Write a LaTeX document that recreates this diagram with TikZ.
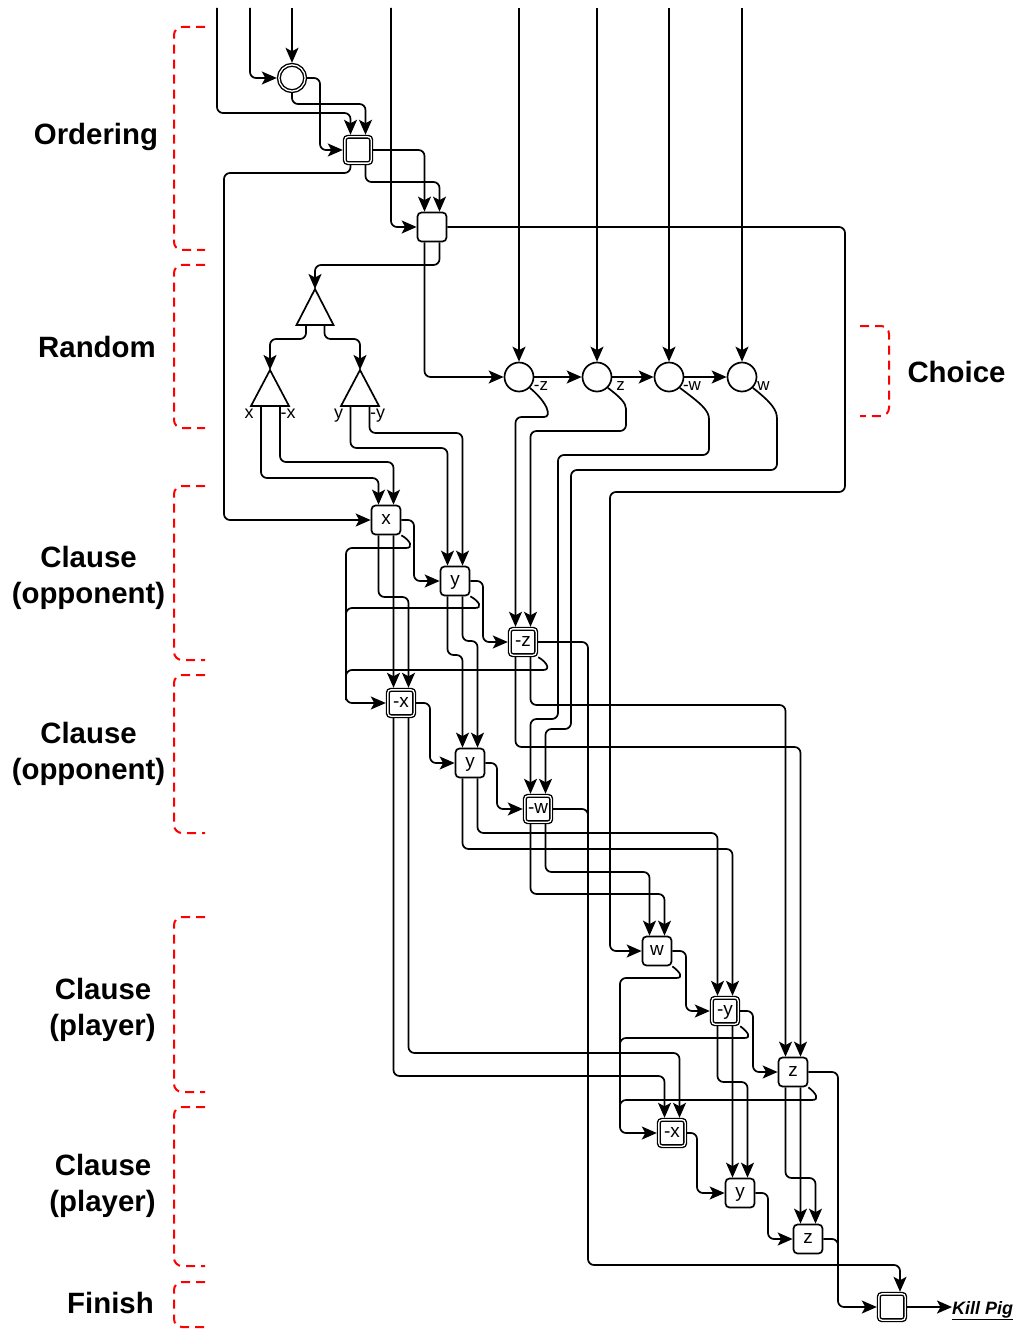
\documentclass[tikz,border=0pt]{standalone}
\usepackage{fontspec}
\setmainfont{Liberation Sans}
\usetikzlibrary{arrows.meta,calc}
\begin{document}
\begin{tikzpicture}[x=1bp,y=-1bp,
  wire/.style={line width=1.7bp, rounded corners=6bp, -{Stealth[length=15bp,width=13bp,inset=3.5bp]}},
  wireplain/.style={line width=1.7bp, rounded corners=6bp},
  lbox/.style={draw, line width=1.7bp, rounded corners=4bp, minimum size=29bp, inner sep=0pt, outer sep=0.85bp, fill=white, font=\fontsize{19}{21}\selectfont, text height=9.9bp, text depth=0pt},
  dlbox/.style={lbox, double, double distance=1.3bp, line width=1.4bp, minimum size=26.3bp, outer sep=2.05bp, rounded corners=3bp},
  ccirc/.style={circle, draw, line width=1.7bp, minimum size=29bp, inner sep=0pt, outer sep=0.85bp, fill=white},
  dcirc/.style={ccirc, double, double distance=1.3bp, line width=1.4bp, minimum size=26.3bp, outer sep=2.05bp},
  tri/.style={draw, line width=1.7bp, fill=white, line join=miter},
  lit/.style={inner sep=0pt, font=\fontsize{18}{20}\selectfont},
  clit/.style={inner sep=0pt, font=\fontsize{17}{19}\selectfont},
  grp/.style={inner sep=0pt, font=\bfseries\fontsize{29.5}{36}\selectfont},
  brk/.style={draw=red, line width=2bp, dash pattern=on 9bp off 6bp, rounded corners=8bp},
  kill/.style={inner sep=0pt, font=\bfseries\itshape\fontsize{18}{20}\selectfont}
]
\useasboundingbox (0,0) rectangle (1018,1331);

% ---------- nodes ----------
\node[dcirc] (c0) at (292,78) {};
\node[dlbox] (sq1) at (358,150) {};
\node[lbox] (sq2) at (432,227) {};
\node[ccirc] (c1) at (519,377) {};
\node[ccirc] (c2) at (597,377) {};
\node[ccirc] (c3) at (669,377) {};
\node[ccirc] (c4) at (742,377) {};
\node[lbox] (x1) at (386,520) {x};
\node[lbox] (y1) at (455,581) {y};
\node[dlbox] (nz1) at (523,642) {-z};
\node[dlbox] (nx2) at (401,703) {-x};
\node[lbox] (y2) at (470,763) {y};
\node[dlbox] (nw2) at (538,809) {-w};
\node[lbox] (w3) at (657,951) {w};
\node[dlbox] (ny3) at (725,1011) {-y};
\node[lbox] (z3) at (793,1072) {z};
\node[dlbox] (nx4) at (672,1133) {-x};
\node[lbox] (y4) at (740,1193) {y};
\node[lbox] (z4) at (808,1239) {z};
\node[dlbox] (fin) at (892,1307) {};
\node[kill, anchor=base west] (kp) at (952,1314) {\underline{Kill Pig}};

% triangles
\coordinate (T0) at (315,289);
\draw[tri] (T0) -- (333.5,325) -- (296.5,325) -- cycle;
\coordinate (Tx) at (270,370);
\draw[tri] (Tx) -- (289,406) -- (251,406) -- cycle;
\coordinate (Ty) at (360,370);
\draw[tri] (Ty) -- (379,406) -- (341,406) -- cycle;
\coordinate (T0l) at (306,325);
\coordinate (T0r) at (324.5,325);
\coordinate (Txl) at (261,406);
\coordinate (Txr) at (280,406);
\coordinate (Tyl) at (350.5,406);
\coordinate (Tyr) at (369.5,406);

% small labels
\node[lit, anchor=base] (lx) at (249,418) {x};
\node[lit, anchor=base] (lnx) at (288,418) {-x};
\node[lit, anchor=base] (ly) at (338.5,418) {y};
\node[lit, anchor=base] (lny) at (377.5,418) {-y};
\node[clit, anchor=base] (lc1) at (541,390) {-z};
\node[clit, anchor=base] (lc2) at (620.5,390) {z};
\node[clit, anchor=base] (lc3) at (692,390) {-w};
\node[clit, anchor=base] (lc4) at (763.5,390) {w};

% inputs
\coordinate (i1) at (217,8);
\coordinate (i2) at (250,8);
\coordinate (i3) at (292,8);
\coordinate (i4) at (391,8);
\coordinate (i5) at (519,8);
\coordinate (i6) at (597,8);
\coordinate (i7) at (669,8);
\coordinate (i8) at (742,8);

% ---------- top wires ----------
\draw[wire] (i1) -- (217,113) -- (350.5,113) -- ($(sq1.north)+(-7.5,0)$);
\draw[wire] (i2) -- (250,78) -- (c0.west);
\draw[wire] (i3) -- (c0.north);
\draw[wire] (i4) -- (391,227) -- (sq2.west);
\draw[wire] (i5) -- (c1.north);
\draw[wire] (i6) -- (c2.north);
\draw[wire] (i7) -- (c3.north);
\draw[wire] (i8) -- (c4.north);
\draw[wire] (c0.east) -- (320,78) -- (320,150) -- (sq1.west);
\draw[wire] (c0.south) -- (292,104) -- (365.5,104) -- ($(sq1.north)+(7.5,0)$);
\draw[wire] (sq1.east) -- (424.5,150) -- ($(sq2.north)+(-7.5,0)$);
\draw[wire] ($(sq1.south)+(7.5,0)$) -- (365.5,182) -- (439.5,182) -- ($(sq2.north)+(7.5,0)$);
\draw[wire] ($(sq1.south)+(-7.5,0)$) -- (350.5,173) -- (224,173) -- (224,520) -- (x1.west);
\draw[wire] (sq2.east) -- (845,227) -- (845,492) -- (610,492) -- (610,951) -- (w3.west);
\draw[wire] ($(sq2.south)+(7.5,0)$) -- (439.5,265) -- (315,265) -- (T0);
\draw[wire] ($(sq2.south)+(-7.5,0)$) -- (424.5,377) -- (c1.west);
\draw[wire] (c1.east) -- (c2.west);
\draw[wire] (c2.east) -- (c3.west);
\draw[wire] (c3.east) -- (c4.west);

% ---------- random tree ----------
\draw[wire] (T0l) -- (306,339) -- (270,339) -- (Tx);
\draw[wire] (T0r) -- (324.5,339) -- (360,339) -- (Ty);
\draw[wire] (Txl) -- (261,478) -- (378.5,478) -- ($(x1.north)+(-7.5,0)$);
\draw[wire] (Txr) -- (280,462) -- (393.5,462) -- ($(x1.north)+(7.5,0)$);
\draw[wire] (Tyl) -- (350.5,448) -- (447.5,448) -- ($(y1.north)+(-7.5,0)$);
\draw[wire] (Tyr) -- (369.5,433) -- (462.5,433) -- ($(y1.north)+(7.5,0)$);

% ---------- choice outputs ----------
\draw[wire] (c1.-45) .. controls (548,403) and (552,417) .. (538,417) -- (515.5,417) -- ($(nz1.north)+(-7.5,0)$);
\draw[wire] (c2.-45) .. controls (620,397) and (626,403) .. (626,415) -- (626,431) -- (530.5,431) -- ($(nz1.north)+(7.5,0)$);
\draw[wire] (c3.-45) .. controls (700,403) and (709,410) .. (709,425) -- (709,455) -- (558,455) -- (558,719) -- (530.5,719) -- ($(nw2.north)+(-7.5,0)$);
\draw[wire] (c4.-45) .. controls (772,403) and (777,410) .. (777,425) -- (777,470) -- (571,470) -- (571,729) -- (545.5,729) -- ($(nw2.north)+(7.5,0)$);

% ---------- clause 1 ----------
\draw[wire] (x1.east) -- (414,520) -- (414,581) -- (y1.west);
\draw[wire] (y1.east) -- (483,581) -- (483,642) -- (nz1.west);
\draw[wire] ($(x1.south)+(-7.5,0)$) -- (378.5,597) -- (408.5,597) -- ($(nx2.north)+(7.5,0)$);
\draw[wire] ($(x1.south)+(7.5,0)$) -- ($(nx2.north)+(-7.5,0)$);
\draw[wire] ($(y1.south)+(-7.5,0)$) -- (447.5,655) -- (462.5,655) -- ($(y2.north)+(-7.5,0)$);
\draw[wire] ($(y1.south)+(7.5,0)$) -- (462.5,641) -- (477.5,641) -- ($(y2.north)+(7.5,0)$);
\draw[wire] ($(nz1.south)+(-7.5,0)$) -- (515.5,747) -- (800.5,747) -- ($(z3.north)+(7.5,0)$);
\draw[wire] ($(nz1.south)+(7.5,0)$) -- (530.5,705) -- (785.5,705) -- ($(z3.north)+(-7.5,0)$);
\draw[wire] (nz1.east) -- (588,642) -- (588,1265) -- (900,1265) -- ($(fin.north)+(8,0)$);
\draw[wire] (x1.south east) .. controls (410,540) and (414,548) .. (400,548) -- (346,548) -- (346,703) -- (nx2.west);
\draw[wireplain] (y1.south east) .. controls (479,601) and (483,608) .. (469,608) -- (346,608) -- (346,640);
\draw[wireplain] (nz1.south east) .. controls (547,662) and (551,670) .. (537,670) -- (346,670) -- (346,700);

% ---------- clause 2 ----------
\draw[wire] (nx2.east) -- (430,703) -- (430,763) -- (y2.west);
\draw[wire] (y2.east) -- (497,763) -- (497,809) -- (nw2.west);
\draw[wire] ($(nx2.south)+(-7.5,0)$) -- (393.5,1076) -- (664.5,1076) -- ($(nx4.north)+(-7.5,0)$);
\draw[wire] ($(nx2.south)+(7.5,0)$) -- (408.5,1053) -- (679.5,1053) -- ($(nx4.north)+(7.5,0)$);
\draw[wire] ($(y2.south)+(-7.5,0)$) -- (462.5,849) -- (732.5,849) -- ($(ny3.north)+(7.5,0)$);
\draw[wire] ($(y2.south)+(7.5,0)$) -- (477.5,833) -- (717.5,833) -- ($(ny3.north)+(-7.5,0)$);
\draw[wire] ($(nw2.south)+(-7.5,0)$) -- (530.5,894) -- (664.5,894) -- ($(w3.north)+(7.5,0)$);
\draw[wire] ($(nw2.south)+(7.5,0)$) -- (545.5,872) -- (649.5,872) -- ($(w3.north)+(-7.5,0)$);
\draw[wireplain] (nw2.east) -- (588,809) -- (588,840);

% ---------- clause 3 ----------
\draw[wire] (w3.east) -- (686,951) -- (686,1011) -- (ny3.west);
\draw[wire] (ny3.east) -- (753,1011) -- (753,1072) -- (z3.west);
\draw[wire] (w3.south east) .. controls (680,972) and (684,978) .. (670,978) -- (620,978) -- (620,1133) -- (nx4.west);
\draw[wireplain] (ny3.south east) .. controls (748,1032) and (752,1038) .. (738,1038) -- (620,1038) -- (620,1070);
\draw[wireplain] (z3.south east) .. controls (816,1093) and (820,1100) .. (806,1100) -- (620,1100) -- (620,1125);
\draw[wire] ($(ny3.south)+(-7.5,0)$) -- (717.5,1082) -- (747.5,1082) -- ($(y4.north)+(7.5,0)$);
\draw[wire] ($(ny3.south)+(7.5,0)$) -- ($(y4.north)+(-7.5,0)$);
\draw[wire] ($(z3.south)+(-7.5,0)$) -- (785.5,1178) -- (815.5,1178) -- ($(z4.north)+(7.5,0)$);
\draw[wire] ($(z3.south)+(7.5,0)$) -- ($(z4.north)+(-7.5,0)$);
\draw[wire] (z3.east) -- (838,1072) -- (838,1307) -- (fin.west);

% ---------- clause 4 ----------
\draw[wire] (nx4.east) -- (697,1133) -- (697,1193) -- (y4.west);
\draw[wire] (y4.east) -- (768,1193) -- (768,1239) -- (z4.west);
\draw[wireplain] (z4.east) -- (838,1239) -- (838,1262);
\draw[wire] (fin.east) -- (kp.west |- fin.east);

% ---------- brackets ----------
\draw[brk] (205,27) -- (174,27) -- (174,250) -- (205,250);
\draw[brk] (205,265) -- (174,265) -- (174,428) -- (205,428);
\draw[brk] (205,486) -- (174,486) -- (174,660) -- (205,660);
\draw[brk] (205,675) -- (174,675) -- (174,833) -- (205,833);
\draw[brk] (205,917) -- (174,917) -- (174,1092) -- (205,1092);
\draw[brk] (205,1107) -- (174,1107) -- (174,1266) -- (205,1266);
\draw[brk] (205,1282) -- (174,1282) -- (174,1327) -- (205,1327);
\draw[brk] (860,326) -- (889,326) -- (889,416) -- (860,416);

% ---------- group labels ----------
\node[grp, anchor=base] (gOrd) at (96,144.5) {Ordering};
\node[grp, anchor=base] (gRand) at (97,357.5) {Random};
\node[grp, anchor=base] (gC1a) at (88.5,567.5) {Clause};
\node[grp, anchor=base] (gC1b) at (88.5,603.5) {(opponent)};
\node[grp, anchor=base] (gC2a) at (88.5,743.5) {Clause};
\node[grp, anchor=base] (gC2b) at (88.5,779.5) {(opponent)};
\node[grp, anchor=base] (gC3a) at (103,999.5) {Clause};
\node[grp, anchor=base] (gC3b) at (102.5,1035.5) {(player)};
\node[grp, anchor=base] (gC4a) at (103,1175.5) {Clause};
\node[grp, anchor=base] (gC4b) at (102.5,1211.5) {(player)};
\node[grp, anchor=base] (gFin) at (110.5,1313.5) {Finish};
\node[grp, anchor=base] (gCho) at (956.5,382.5) {Choice};
\end{tikzpicture}
\end{document}
